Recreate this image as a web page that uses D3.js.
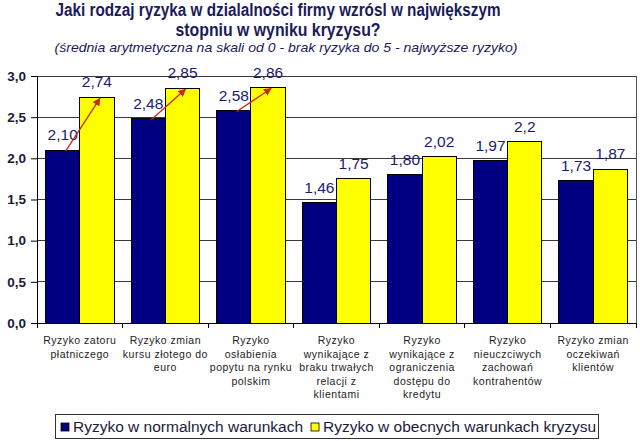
<!DOCTYPE html>
<html><head><meta charset="utf-8">
<script src="https://cdn.jsdelivr.net/npm/d3@7"></script>
<style>body{margin:0;background:#fff}svg{display:block}</style>
</head><body>
<script>
const titleLines = ["Jaki rodzaj ryzyka w dzialalności firmy wzrósl w największym", "stopniu w wyniku kryzysu?"];
const subtitle = "(średnia arytmetyczna na skali od 0 - brak ryzyka do 5 - najwyższe ryzyko)";
const categories = [
  ["Ryzyko zatoru", "płatniczego"],
  ["Ryzyko zmian", "kursu złotego do", "euro"],
  ["Ryzyko", "osłabienia", "popytu na rynku", "polskim"],
  ["Ryzyko", "wynikające z", "braku trwałych", "relacji z", "klientami"],
  ["Ryzyko", "wynikające z", "ograniczenia", "dostępu do", "kredytu"],
  ["Ryzyko", "nieuczciwych", "zachowań", "kontrahentów"],
  ["Ryzyko zmian", "oczekiwań", "klientów"]
];
const seriesNames = ["Ryzyko w normalnych warunkach", "Ryzyko w obecnych warunkach kryzysu"];
const normalValues = [2.10, 2.48, 2.58, 1.46, 1.80, 1.97, 1.73];
const crisisValues = [2.74, 2.85, 2.86, 1.75, 2.02, 2.2, 1.87];
const normalLabels = ["2,10", "2,48", "2,58", "1,46", "1,80", "1,97", "1,73"];
const crisisLabels = ["2,74", "2,85", "2,86", "1,75", "2,02", "2,2", "1,87"];
const yTicks = [0, 0.5, 1.0, 1.5, 2.0, 2.5, 3.0];
const arrowCategories = [0, 1, 2];
const colors = ["#000080", "#ffff00"];

(function () {
const W = 640, H = 441;
const svg = d3.select("body").append("svg").attr("width", W).attr("height", H)
  .style("font-family", "Arial, 'Liberation Sans', sans-serif");

const pL = 37, pR = 636, pT = 76, pB = 323;
const idx = d3.range(categories.length);
const x0 = d3.scaleBand().domain(idx).range([pL, pR]).padding(0);
const bw = x0.bandwidth();
const x1 = d3.scaleBand().domain([0, 1]).range([bw * 0.1, bw * 0.9]).padding(0);
const y = d3.scaleLinear().domain([0, 3]).range([pB, pT]);
const fmt = v => d3.format(".1f")(v).replace(".", ",");

// title
const tc = "#1a1a5c";
const titleW = [445, 205];
svg.selectAll("text.title").data(titleLines).join("text").attr("class", "title")
  .attr("x", 278).attr("y", (d, i) => 16 + i * 20)
  .attr("text-anchor", "middle").attr("font-size", 17.5).attr("font-weight", "bold")
  .attr("textLength", (d, i) => titleW[i]).attr("lengthAdjust", "spacingAndGlyphs")
  .attr("fill", tc).text(d => d);
svg.append("text").attr("x", 286).attr("y", 52).attr("text-anchor", "middle")
  .attr("font-size", 13).attr("font-style", "italic").attr("fill", tc)
  .attr("textLength", 463).attr("lengthAdjust", "spacingAndGlyphs").text(subtitle);

// gridlines
svg.append("g").selectAll("line").data(yTicks.filter(t => t > 0)).join("line")
  .attr("x1", pL).attr("x2", pR).attr("y1", d => y(d)).attr("y2", d => y(d))
  .attr("stroke", "#3a3a3a").attr("stroke-width", 1).attr("shape-rendering", "crispEdges");
// right border
svg.append("line").attr("x1", pR).attr("x2", pR).attr("y1", pT).attr("y2", pB)
  .attr("stroke", "#555").attr("shape-rendering", "crispEdges");

// bars
const g = svg.append("g");
idx.forEach(i => {
  [normalValues[i], crisisValues[i]].forEach((v, s) => {
    g.append("rect")
      .attr("x", x0(i) + x1(s)).attr("width", x1.bandwidth())
      .attr("y", y(v)).attr("height", y(0) - y(v))
      .attr("fill", colors[s]).attr("stroke", "#000").attr("stroke-width", 1)
      .attr("shape-rendering", "crispEdges");
  });
});

// y axis
const yAxis = d3.axisLeft(y).tickValues(yTicks).tickFormat(fmt).tickSize(6).tickPadding(5);
const ya = svg.append("g").attr("transform", `translate(${pL},0)`).call(yAxis);
ya.select(".domain").attr("stroke", "#000");
ya.selectAll(".tick line").attr("stroke", "#000");
ya.selectAll("text").attr("font-size", 13.5).attr("font-weight", "bold").attr("fill", "#1a1a3a")
  .style("font-family", "Arial, 'Liberation Sans', sans-serif");

// x axis line and boundary ticks
const xa = svg.append("g").attr("transform", `translate(0,${pB})`);
xa.append("line").attr("x1", pL).attr("x2", pR).attr("stroke", "#000").attr("shape-rendering", "crispEdges");
xa.selectAll("line.tk").data(d3.range(categories.length + 1)).join("line").attr("class", "tk")
  .attr("x1", d => pL + d * bw).attr("x2", d => pL + d * bw).attr("y1", 0).attr("y2", 5)
  .attr("stroke", "#000").attr("shape-rendering", "crispEdges");

// category labels
idx.forEach(i => {
  const t = svg.append("text").attr("text-anchor", "middle").attr("font-size", 10.5)
    .attr("fill", "#222").attr("letter-spacing", 0.5);
  categories[i].forEach((line, k) => {
    t.append("tspan").attr("x", x0(i) + bw / 2).attr("y", 344 + k * 13.5).text(line);
  });
});

// value labels
const lc = "#1a1a6e";
idx.forEach(i => {
  [[normalValues[i], normalLabels[i]], [crisisValues[i], crisisLabels[i]]].forEach(([v, l], s) => {
    svg.append("text").attr("x", x0(i) + x1(s) + x1.bandwidth() / 2).attr("y", y(v) - 10)
      .attr("text-anchor", "middle").attr("font-size", 15.5).attr("fill", lc).text(l);
  });
});

// arrows
svg.append("defs").append("marker").attr("id", "ah").attr("viewBox", "0 0 10 10")
  .attr("refX", 9).attr("refY", 5).attr("markerWidth", 6).attr("markerHeight", 6)
  .attr("orient", "auto").append("path").attr("d", "M0,0L10,5L0,10z").attr("fill", "#c8281e");
arrowCategories.forEach(i => {
  svg.append("line")
    .attr("x1", x0(i) + x1(0) + x1.bandwidth() / 2 + 3).attr("y1", y(normalValues[i]) + 1)
    .attr("x2", x0(i) + x1(1) + x1.bandwidth() / 2 + 3).attr("y2", y(crisisValues[i]) + 1)
    .attr("stroke", "#c8281e").attr("stroke-width", 1.3).attr("marker-end", "url(#ah)");
});

// legend
const lg = svg.append("g");
lg.append("rect").attr("x", 55.5).attr("y", 414.5).attr("width", 543).attr("height", 24)
  .attr("fill", "#fff").attr("stroke", "#333");
const legX = [61, 311];
seriesNames.forEach((n, s) => {
  lg.append("rect").attr("x", legX[s]).attr("y", 423).attr("width", 8).attr("height", 8)
    .attr("fill", colors[s]).attr("stroke", "#000").attr("stroke-width", 0.8);
  lg.append("text").attr("x", legX[s] + 12).attr("y", 432).attr("font-size", 15.5)
    .attr("fill", "#1a1a3a").text(n);
});
})();
</script>
</body></html>
